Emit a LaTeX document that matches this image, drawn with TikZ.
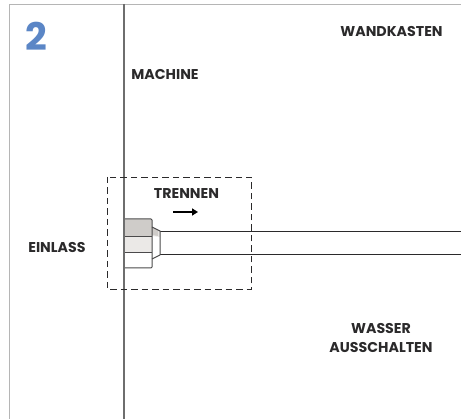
\documentclass[tikz,border=0pt]{standalone}
\usepackage{fontspec}
\setmainfont{Poppins}
\usetikzlibrary{arrows.meta}
\definecolor{ink}{HTML}{2B2A2B}
\definecolor{numblue}{HTML}{5B86C6}
\definecolor{framegray}{HTML}{B5B5B5}
\definecolor{walline}{HTML}{6E6E6E}
\definecolor{nutdark}{HTML}{CFCCC9}
\definecolor{nutlight}{HTML}{EBE9E7}
\tikzset{
  lbl/.style={font=\fontsize{14.2pt}{19pt}\selectfont\bfseries, text=ink, align=center, inner sep=0pt},
  pipeline/.style={draw=ink, line width=1pt},
  nutline/.style={draw=ink!85, line width=1pt, line join=round}
}
\begin{document}
\begin{tikzpicture}[x=1pt,y=-1pt]
\useasboundingbox (0,0) rectangle (461,419);
\fill[white] (0,0) rectangle (461,419);
% frame
\coordinate (fbl) at (9.5,419);
\coordinate (ftl) at (9.5,4.5);
\coordinate (ftr) at (461,4.5);
\draw[framegray, line width=1pt] (fbl) -- (ftl) -- (ftr);
% pipe
\coordinate (pa) at (160,232);
\coordinate (pb) at (461,232);
\coordinate (pc) at (160,254.5);
\coordinate (pd) at (461,254.5);
\draw[pipeline] (pa) -- (pb);
\draw[pipeline] (pc) -- (pd);
% nut
\fill[nutdark] (124,219) rectangle (152,236.5);
\fill[nutlight] (124,236.5) rectangle (152,253);
\fill[nutlight] (152,227) -- (160,231) -- (160,237) -- (152,236) -- cycle;
\fill[nutdark] (152,227) -- (158,230) -- (158,236) -- (152,235) -- cycle;
\draw[nutline] (124,219) -- (151,219) -- (152,220) -- (152,267) -- (151,268) -- (124,268);
\draw[nutline] (124,236.5) -- (152,236.5);
\draw[nutline] (124,253) -- (152,253);
\draw[nutline] (152,227) -- (160,231) -- (160,255) -- (152,259);
% wall
\coordinate (wt) at (124,4);
\coordinate (wb) at (124,419);
\draw[walline, line width=1.4pt] (wt) -- (wb);
% dashed box
\draw[ink, line width=0.9pt, dash pattern=on 6.5pt off 4pt] (107,177) rectangle (251,289.5);
% arrow
\coordinate (aa) at (173,212);
\coordinate (ab) at (198,212);
\draw[black, line width=1.5pt, -{Triangle[length=6pt,width=7pt]}] (aa) -- (ab);
% labels
\node[font=\fontsize{38pt}{40pt}\selectfont\bfseries, text=numblue, inner sep=0pt] (num) at (36.5,36) {2};
\node[lbl] (machine) at (165,74) {MACHINE};
\node[lbl] (wand) at (391.5,31) {WANDKASTEN};
\node[lbl] (trennen) at (186.5,194) {TRENNEN};
\node[lbl] (einlass) at (57,247) {EINLASS};
\node[lbl] (wasser) at (381,337.5) {WASSER\\AUSSCHALTEN};
\end{tikzpicture}
\end{document}
